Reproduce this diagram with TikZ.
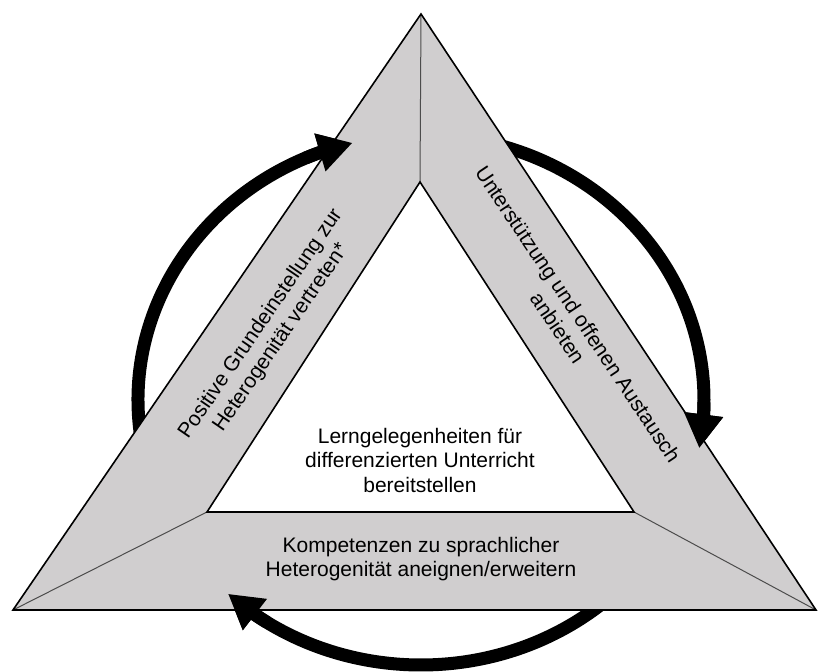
\documentclass[tikz,border=0pt]{standalone}
\usepackage{fontspec}
\setmainfont{Liberation Sans}
\usetikzlibrary{arrows.meta,bending}
\definecolor{bandgray}{RGB}{208,206,207}
\begin{document}
\begin{tikzpicture}[x=1pt,y=1pt,
  band/.style={fill=bandgray,draw=none},
  edge/.style={draw=black,line width=1.6pt,line join=miter},
  divider/.style={draw=black!70,line width=1pt},
  cyc/.style={line width=13pt,draw=black},
  cycarrow/.style={cyc,-{Triangle[length=34pt,width=37pt,flex]}},
  lab/.style={font=\fontsize{21}{24.5}\selectfont,align=center,text=black,inner sep=0pt}]
\useasboundingbox (0,0) rectangle (818,671);
% outer and inner triangle corners
\coordinate (OT) at (421,657);
\coordinate (OL) at (13,61);
\coordinate (OR) at (816,61);
\coordinate (IT) at (420,489);
\coordinate (IL) at (207,159);
\coordinate (IR) at (634,159);
\coordinate (C) at (421,271);
% cycle arrows (behind the triangle)
\draw[cycarrow] (C) ++(187:283pt and 265pt) arc[start angle=187,end angle=104,x radius=283pt,y radius=265pt];
\draw[cycarrow] (C) ++(80:283pt and 265pt) arc[start angle=80,end angle=-10.5,x radius=283pt,y radius=265pt];
\draw[cycarrow] (C) ++(-45:283pt and 265pt) arc[start angle=-45,end angle=-133,x radius=283pt,y radius=265pt];
% bands
\fill[band] (OL) -- (OT) -- (IT) -- (IL) -- cycle;
\fill[band] (OT) -- (OR) -- (IR) -- (IT) -- cycle;
\fill[band] (OL) -- (IL) -- (IR) -- (OR) -- cycle;
\draw[divider] (OT) -- (IT);
\draw[divider] (OL) -- (IL);
\draw[divider] (OR) -- (IR);
\draw[edge] (OL) -- (OT) -- (OR) -- cycle;
\draw[edge] (IL) -- (IT) -- (IR) -- cycle;
% arrow heads on top
\draw[cycarrow] (C) ++(114:283pt and 265pt) arc[start angle=114,end angle=104,x radius=283pt,y radius=265pt];
\draw[cycarrow] (C) ++(-0.5:283pt and 265pt) arc[start angle=-0.5,end angle=-10.5,x radius=283pt,y radius=265pt];
\draw[cycarrow] (C) ++(-123:283pt and 265pt) arc[start angle=-123,end angle=-133,x radius=283pt,y radius=265pt];
% texts
\node[lab] (tcenter) at (420,211) {Lerngelegenheiten für\\differenzierten Unterricht\\bereitstellen};
\node[lab] (tbottom) at (421,112) {Kompetenzen zu sprachlicher\\Heterogenität aneignen/erweitern};
\node[lab,rotate=55.6] (tleft) at (271,340) {Positive Grundeinstellung zur\\Heterogenität vertreten*};
\node[lab,rotate=-56.2] (tright) at (568,350) {Unterstützung und offenen Austausch\\anbieten};
\end{tikzpicture}
\end{document}
